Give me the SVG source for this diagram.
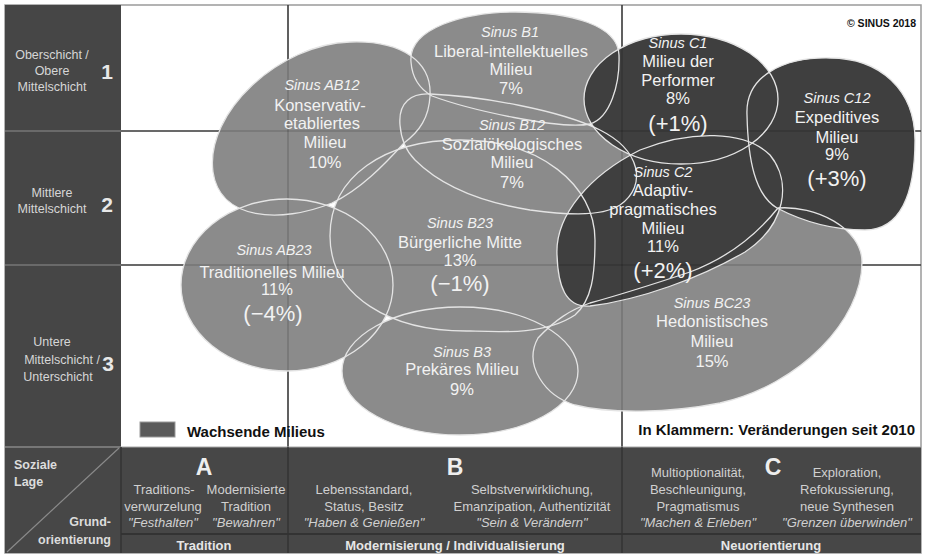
<svg xmlns="http://www.w3.org/2000/svg" width="926" height="556" viewBox="0 0 926 556">
<style>
text{font-family:"Liberation Sans",Arial,sans-serif}
.lt{fill:#d6d6d6;font-size:12.5px;text-anchor:middle}
.num{fill:#e8e8e8;font-size:21px;font-weight:bold;text-anchor:middle}
.bt{fill:#d0d0d0;font-size:13px;text-anchor:middle}
.bi{fill:#d0d0d0;font-size:13px;text-anchor:middle;font-style:italic}
.bh{fill:#e6e6e6;font-size:13px;font-weight:bold;text-anchor:middle}
.col{fill:#eeeeee;font-size:23px;font-weight:bold;text-anchor:middle}
.gray{fill:#8b8b8b}
.dark{fill:#3f3f3f}
.ol{fill:none;stroke:#e4e4e4;stroke-width:1.3}
.m{fill:#f2f2f2;font-size:16.5px;text-anchor:middle}
.s{fill:#f2f2f2;font-size:14.5px;font-style:italic;text-anchor:middle}
.p{fill:#f2f2f2;font-size:22px;text-anchor:middle}
.gl{stroke:#4a4a4a;stroke-width:1.6}
.go{stroke:#000;stroke-opacity:0.16;stroke-width:1.6}
</style>
<defs>
<path id="pAB12" d="M 213,172 C 205,112 280,44 350,42 C 402,40 432,62 430,96 C 429,117 420,131 404,143 C 385,164 360,190 332,203 C 280,224 220,220 213,172 Z"/>
<ellipse id="pAB23" cx="287" cy="285" rx="106" ry="86"/>
<path id="pB1" d="M 411,62 C 408,28 465,12 515,12 C 570,12 618,25 619,55 C 620,85 610,118 590,124 C 560,130 470,110 432,96 C 418,88 412,76 411,62 Z"/>
<path id="pB12" d="M 400,125 C 398,102 412,93 430,94 C 480,96 560,110 600,130 C 640,150 648,185 620,205 C 600,218 560,214 530,210 C 480,202 440,185 415,160 C 405,150 401,138 400,125 Z"/>
<path id="pB23" d="M 330,236 C 330,176 385,140 460,140 C 540,140 595,185 595,240 C 595,275 592,300 575,315 C 545,335 500,332 470,331 C 390,332 330,296 330,236 Z"/>
<ellipse id="pB3" cx="460" cy="371" rx="118" ry="64"/>
<path id="pBC23" d="M 538,338 C 555,320 570,310 590,303 C 630,292 660,282 690,272 C 735,255 762,228 778,208 C 815,205 862,228 862,262 C 862,320 800,385 720,403 C 670,413 610,414 575,405 C 545,396 523,365 538,338 Z"/>
<ellipse id="pC1" cx="681" cy="99" rx="97" ry="65"/>
<path id="pC12" d="M 747,115 C 745,75 785,57 830,58 C 880,58 915,90 915,140 C 915,195 900,230 865,230 C 830,230 800,220 777,208 C 755,195 748,160 747,115 Z"/>
<path id="pC2" d="M 557,255 C 555,215 590,175 640,150 C 690,130 745,130 770,155 C 792,182 786,225 745,252 C 700,278 640,300 590,306 C 565,308 558,285 557,255 Z"/>
</defs>

<rect x="0" y="0" width="926" height="556" fill="#ffffff"/>

<g id="frame">
<rect x="5" y="5" width="916" height="548" fill="#ffffff" stroke="#9a9a9a" stroke-width="1.5"/>
<rect x="5" y="5" width="116" height="442" fill="#464646"/>
<rect x="5" y="447" width="916" height="106" fill="#474747"/>
</g>

<g id="grid">
<line class="gl" x1="121" y1="131" x2="921" y2="131"/>
<line class="gl" x1="121" y1="265" x2="921" y2="265"/>
<line class="gl" x1="288" y1="5" x2="288" y2="447"/>
<line class="gl" x1="622" y1="5" x2="622" y2="447"/>
<line stroke="#777" stroke-width="1.5" x1="5" y1="131" x2="121" y2="131"/>
<line stroke="#777" stroke-width="1.5" x1="5" y1="265" x2="121" y2="265"/>
</g>

<g id="fills">
<use href="#pAB12" class="gray"/>
<use href="#pAB23" class="gray"/>
<use href="#pB1" class="gray"/>
<use href="#pB12" class="gray"/>
<use href="#pB23" class="gray"/>
<use href="#pB3" class="gray"/>
<use href="#pBC23" class="gray"/>
<use href="#pC1" class="dark"/>
<use href="#pC12" class="dark"/>
<use href="#pC2" class="dark"/>
</g>

<g id="grid-over">
<line class="go" x1="121" y1="131" x2="921" y2="131"/>
<line class="go" x1="121" y1="265" x2="921" y2="265"/>
<line class="go" x1="288" y1="5" x2="288" y2="447"/>
<line class="go" x1="622" y1="5" x2="622" y2="447"/>
</g>

<g id="outlines">
<use href="#pAB12" class="ol"/>
<use href="#pAB23" class="ol"/>
<use href="#pB1" class="ol"/>
<use href="#pB12" class="ol"/>
<use href="#pB23" class="ol"/>
<use href="#pB3" class="ol"/>
<use href="#pBC23" class="ol"/>
<use href="#pC1" class="ol"/>
<use href="#pC12" class="ol"/>
<use href="#pC2" class="ol"/>
</g>

<g id="AB12">
<text class="s" x="322" y="90">Sinus AB12</text>
<text class="m" x="320" y="111">Konservativ-</text>
<text class="m" x="322" y="129">etabliertes</text>
<text class="m" x="325" y="148">Milieu</text>
<text class="m" x="325" y="168">10%</text>
</g>
<g id="B1">
<text class="s" x="510" y="37">Sinus B1</text>
<text class="m" x="511" y="57">Liberal-intellektuelles</text>
<text class="m" x="511" y="75">Milieu</text>
<text class="m" x="511" y="94">7%</text>
</g>
<g id="C1">
<text class="s" x="678" y="48">Sinus C1</text>
<text class="m" x="678" y="67">Milieu der</text>
<text class="m" x="678" y="86">Performer</text>
<text class="m" x="678" y="104">8%</text>
<text class="p" x="678" y="131">(+1%)</text>
</g>
<g id="C12">
<text class="s" x="837" y="103">Sinus C12</text>
<text class="m" x="837" y="123">Expeditives</text>
<text class="m" x="837" y="143">Milieu</text>
<text class="m" x="837" y="160">9%</text>
<text class="p" x="837" y="186">(+3%)</text>
</g>
<g id="B12">
<text class="s" x="512" y="130">Sinus B12</text>
<text class="m" x="512" y="150">Sozialökologisches</text>
<text class="m" x="512" y="168">Milieu</text>
<text class="m" x="512" y="188">7%</text>
</g>
<g id="C2">
<text class="s" x="663" y="177">Sinus C2</text>
<text class="m" x="663" y="196">Adaptiv-</text>
<text class="m" x="663" y="215">pragmatisches</text>
<text class="m" x="663" y="234">Milieu</text>
<text class="m" x="663" y="252">11%</text>
<text class="p" x="663" y="278">(+2%)</text>
</g>
<g id="B23">
<text class="s" x="460" y="228">Sinus B23</text>
<text class="m" x="460" y="248">Bürgerliche Mitte</text>
<text class="m" x="460" y="266">13%</text>
<text class="p" x="460" y="291">(−1%)</text>
</g>
<g id="AB23">
<text class="s" x="274" y="255">Sinus AB23</text>
<text class="m" x="272" y="278">Traditionelles Milieu</text>
<text class="m" x="277" y="295">11%</text>
<text class="p" x="273" y="321">(−4%)</text>
</g>
<g id="B3">
<text class="s" x="462" y="357">Sinus B3</text>
<text class="m" x="462" y="375">Prekäres Milieu</text>
<text class="m" x="462" y="395">9%</text>
</g>
<g id="BC23">
<text class="s" x="712" y="308">Sinus BC23</text>
<text class="m" x="712" y="327">Hedonistisches</text>
<text class="m" x="712" y="347">Milieu</text>
<text class="m" x="712" y="367">15%</text>
</g>

<g id="copyright">
<text x="916" y="27" font-size="10.5" font-weight="bold" text-anchor="end" fill="#111">© SINUS 2018</text>
</g>

<g id="legend">
<rect x="140" y="422" width="35" height="15" fill="#5a5a5a" stroke="#9a9a9a" stroke-width="1"/>
<text x="187" y="437" font-size="15" font-weight="bold" fill="#111">Wachsende Milieus</text>
<text x="915" y="435" font-size="15" font-weight="bold" fill="#111" text-anchor="end">In Klammern: Veränderungen seit 2010</text>
</g>

<g id="yaxis">
<text class="lt" x="52" y="59">Oberschicht /</text>
<text class="lt" x="52" y="75">Obere</text>
<text class="lt" x="52" y="91">Mittelschicht</text>
<text class="num" x="107" y="79">1</text>
<text class="lt" x="52" y="197">Mittlere</text>
<text class="lt" x="52" y="213">Mittelschicht</text>
<text class="num" x="107" y="212">2</text>
<text class="lt" x="52" y="346">Untere</text>
<text class="lt" x="62" y="364">Mittelschicht /</text>
<text class="lt" x="58" y="381">Unterschicht</text>
<text class="num" x="108" y="371">3</text>
</g>

<g id="xaxis">
<line x1="5" y1="447" x2="921" y2="447" stroke="#a8a8a8" stroke-width="1.2"/>
<line x1="121" y1="534" x2="921" y2="534" stroke="#333" stroke-width="2"/>
<line x1="121" y1="447" x2="121" y2="553" stroke="#333" stroke-width="1.5"/>
<line x1="288" y1="447" x2="288" y2="553" stroke="#333" stroke-width="1.5"/>
<line x1="622" y1="447" x2="622" y2="553" stroke="#333" stroke-width="1.5"/>
<line x1="7" y1="552" x2="119" y2="448" stroke="#8a8a8a" stroke-width="1.2"/>
<text x="14" y="469" font-size="12.5" font-weight="bold" fill="#dcdcdc">Soziale</text>
<text x="14" y="486" font-size="12.5" font-weight="bold" fill="#dcdcdc">Lage</text>
<text x="111" y="526" font-size="12.5" font-weight="bold" fill="#dcdcdc" text-anchor="end">Grund-</text>
<text x="111" y="544" font-size="12.5" font-weight="bold" fill="#dcdcdc" text-anchor="end">orientierung</text>

<text class="col" x="204" y="475">A</text>
<text class="bt" x="164" y="494">Traditions-</text>
<text class="bt" x="163" y="511">verwurzelung</text>
<text class="bi" x="163" y="527">"Festhalten"</text>
<text class="bt" x="246" y="494">Modernisierte</text>
<text class="bt" x="246" y="511">Tradition</text>
<text class="bi" x="246" y="527">"Bewahren"</text>
<text class="bh" x="204" y="550">Tradition</text>

<text class="col" x="455" y="475">B</text>
<text class="bt" x="364" y="494">Lebensstandard,</text>
<text class="bt" x="364" y="511">Status, Besitz</text>
<text class="bi" x="364" y="527">"Haben &amp; Genießen"</text>
<text class="bt" x="532" y="494">Selbstverwirklichung,</text>
<text class="bt" x="532" y="511">Emanzipation, Authentizität</text>
<text class="bi" x="532" y="527">"Sein &amp; Verändern"</text>
<text class="bh" x="455" y="550">Modernisierung / Individualisierung</text>

<text class="col" x="773" y="475">C</text>
<text class="bt" x="698" y="477">Multioptionalität,</text>
<text class="bt" x="698" y="494">Beschleunigung,</text>
<text class="bt" x="698" y="511">Pragmatismus</text>
<text class="bi" x="698" y="527">"Machen &amp; Erleben"</text>
<text class="bt" x="847" y="477">Exploration,</text>
<text class="bt" x="847" y="494">Refokussierung,</text>
<text class="bt" x="847" y="511">neue Synthesen</text>
<text class="bi" x="847" y="527">"Grenzen überwinden"</text>
<text class="bh" x="771" y="550">Neuorientierung</text>
</g>
</svg>
